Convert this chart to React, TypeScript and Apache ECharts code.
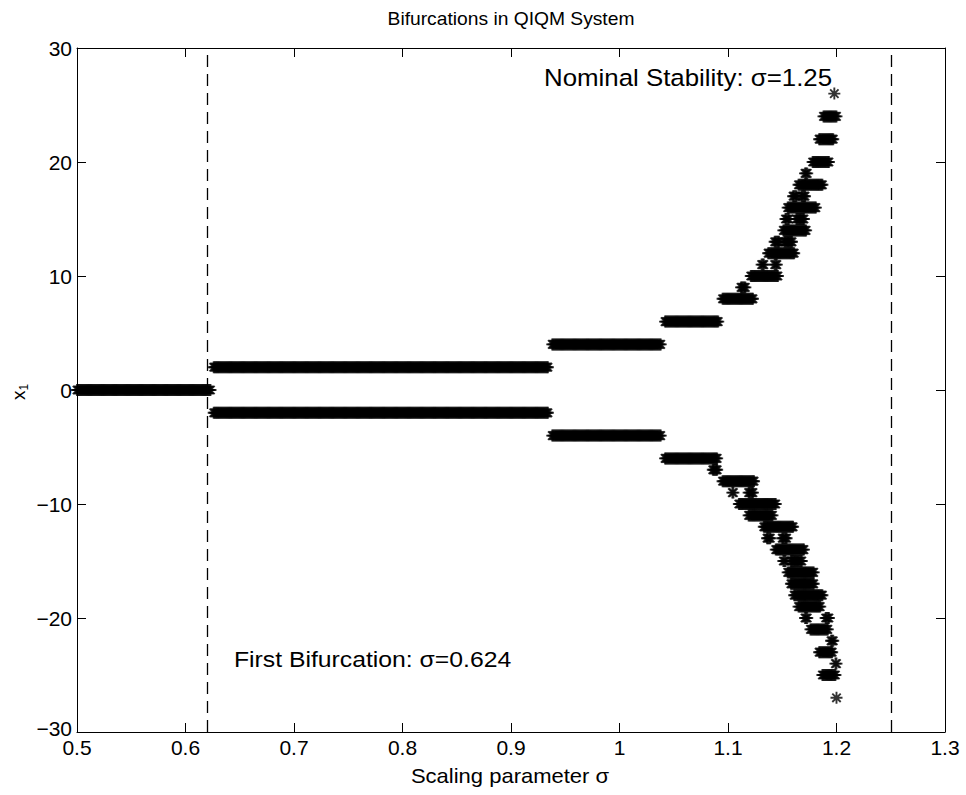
import React, { useEffect, useRef } from "react";
import * as echarts from "echarts";

// Sweep resolution of the scaling parameter sigma
const SIGMA_STEP = 0.001;

// Axis ranges and tick spacing
const SIGMA_MIN = 0.5;
const SIGMA_MAX = 1.3;
const SIGMA_TICK = 0.1;
const X1_MIN = -30;
const X1_MAX = 30;
const X1_TICK = 10;

// Reference parameter values marked with dashed lines
const FIRST_BIFURCATION = 0.624;
const NOMINAL_STABILITY = 1.25;

// [x1 level, sigma from, sigma to]: sweep samples where the orbit visits that level
const UPPER_BRANCH: [number, number, number][] = [
  [0, 0.5, 0.623],
  [2, 0.626, 0.934],
  [4, 0.938, 1.038],
  [6, 1.042, 1.091],
  [8, 1.095, 1.123],
  [9, 1.112, 1.116],
  [10, 1.121, 1.146],
  [11, 1.131, 1.133],
  [11, 1.143, 1.145],
  [12, 1.137, 1.161],
  [13, 1.143, 1.147],
  [13, 1.152, 1.159],
  [14, 1.151, 1.172],
  [15, 1.153, 1.156],
  [15, 1.163, 1.17],
  [16, 1.155, 1.181],
  [17, 1.16, 1.163],
  [17, 1.168, 1.171],
  [18, 1.165, 1.187],
  [19, 1.171, 1.173],
  [20, 1.178, 1.193],
  [22, 1.184, 1.197],
  [24, 1.188, 1.2],
  [26, 1.198, 1.198],
];

const LOWER_BRANCH: [number, number, number][] = [
  [-2, 0.626, 0.934],
  [-4, 0.938, 1.038],
  [-6, 1.042, 1.09],
  [-7, 1.086, 1.09],
  [-8, 1.095, 1.124],
  [-9, 1.104, 1.105],
  [-9, 1.119, 1.123],
  [-10, 1.11, 1.144],
  [-11, 1.119, 1.141],
  [-12, 1.133, 1.16],
  [-13, 1.136, 1.139],
  [-13, 1.15, 1.154],
  [-14, 1.144, 1.17],
  [-15, 1.151, 1.153],
  [-15, 1.158, 1.168],
  [-16, 1.155, 1.179],
  [-17, 1.158, 1.179],
  [-18, 1.161, 1.187],
  [-19, 1.165, 1.185],
  [-20, 1.171, 1.173],
  [-20, 1.19, 1.193],
  [-21, 1.176, 1.192],
  [-22, 1.195, 1.197],
  [-23, 1.184, 1.196],
  [-24, 1.199, 1.2],
  [-25, 1.187, 1.199],
  [-27, 1.2, 1.2],
];

const FONT = '"Liberation Sans", Arial, Helvetica, sans-serif';
const ASTERISK = "path://M0,5L10,5M5,0L5,10M1.5,1.5L8.5,8.5M8.5,1.5L1.5,8.5";

function sweepPoints(ranges: [number, number, number][]): [number, number][] {
  const pts: [number, number][] = [];
  for (const [level, from, to] of ranges) {
    const k0 = Math.round(from / SIGMA_STEP);
    const k1 = Math.round(to / SIGMA_STEP);
    for (let k = k0; k <= k1; k++) {
      pts.push([+(k * SIGMA_STEP).toFixed(3), level]);
    }
  }
  return pts;
}

const fmtSigma = (v: number) => String(Math.round(v * 10) / 10);
// The bottom-most label is lifted a little so it clears the first sigma label
const fmtX1 = (v: number) => {
  const s = v < 0 ? "\u2212" + Math.abs(v) : String(v);
  return v === X1_MIN ? `{lo|${s}}` : s;
};

export default function App() {
  const ref = useRef<HTMLDivElement>(null);

  useEffect(() => {
    if (!ref.current) return;
    const chart = echarts.init(ref.current, undefined, { renderer: "svg" });

    const axisLine = { show: true, onZero: false, lineStyle: { color: "#000", width: 1 } };
    const axisTick = { show: true, inside: true, length: 9, lineStyle: { color: "#000", width: 1 } };

    const scatterStyle = {
      type: "scatter" as const,
      symbol: ASTERISK,
      symbolSize: 12,
      silent: true,
      itemStyle: { color: "#000", borderColor: "#000", borderWidth: 1.9 },
    };

    chart.setOption({
      animation: false,
      backgroundColor: "#fff",
      grid: { left: 77, top: 48, right: 21, bottom: 63, containLabel: false },
      xAxis: [
        {
          type: "value",
          position: "bottom",
          min: SIGMA_MIN,
          max: SIGMA_MAX,
          interval: SIGMA_TICK,
          axisLine,
          axisTick,
          splitLine: { show: false },
          axisLabel: {
            color: "#000",
            fontFamily: FONT,
            fontSize: 21,
            lineHeight: 16,
            margin: 7,
            formatter: fmtSigma,
          },
        },
        {
          type: "value",
          position: "top",
          min: SIGMA_MIN,
          max: SIGMA_MAX,
          interval: SIGMA_TICK,
          axisLine,
          axisTick,
          splitLine: { show: false },
          axisLabel: { show: false },
        },
      ],
      yAxis: [
        {
          type: "value",
          position: "left",
          min: X1_MIN,
          max: X1_MAX,
          interval: X1_TICK,
          axisLine,
          axisTick,
          splitLine: { show: false },
          axisLabel: {
            color: "#000",
            fontFamily: FONT,
            fontSize: 21,
            lineHeight: 16,
            margin: 5,
            formatter: fmtX1,
            rich: {
              lo: {
                color: "#000",
                fontFamily: FONT,
                fontSize: 21,
                lineHeight: 16,
                padding: [0, 0, 7, 0],
              },
            },
          },
        },
        {
          type: "value",
          position: "right",
          min: X1_MIN,
          max: X1_MAX,
          interval: X1_TICK,
          axisLine,
          axisTick,
          splitLine: { show: false },
          axisLabel: { show: false },
        },
      ],
      series: [
        {
          ...scatterStyle,
          name: "upper",
          data: sweepPoints(UPPER_BRANCH),
          markLine: {
            silent: true,
            symbol: ["none", "none"],
            label: { show: false },
            lineStyle: { color: "#000", type: [12, 7], width: 1.3 },
            data: [{ xAxis: FIRST_BIFURCATION }, { xAxis: NOMINAL_STABILITY }],
          },
        },
        {
          ...scatterStyle,
          name: "lower",
          data: sweepPoints(LOWER_BRANCH),
        },
      ],
      graphic: [
        {
          type: "text",
          x: 511,
          y: 19,
          scaleX: 1.1,
          style: {
            text: "Bifurcations in QIQM System",
            fill: "#000",
            font: `17.5px ${FONT}`,
            textAlign: "center",
            textVerticalAlign: "middle",
          },
        },
        {
          type: "text",
          x: 510,
          y: 776,
          scaleX: 1.1,
          style: {
            text: "Scaling parameter \u03c3",
            fill: "#000",
            font: `20px ${FONT}`,
            textAlign: "center",
            textVerticalAlign: "middle",
          },
        },
        {
          type: "text",
          x: 18,
          y: 392,
          rotation: Math.PI / 2,
          style: {
            text: "{a|x}{b|1}",
            fill: "#000",
            textAlign: "center",
            textVerticalAlign: "middle",
            rich: {
              a: { fontFamily: FONT, fontSize: 19, fill: "#000" },
              b: { fontFamily: FONT, fontSize: 12, fill: "#000", padding: [12, 0, 0, 0] },
            },
          },
        },
        {
          type: "text",
          x: 544,
          y: 78,
          scaleX: 1.1,
          style: {
            text: "Nominal Stability: \u03c3=1.25",
            fill: "#000",
            font: `23.5px ${FONT}`,
            textAlign: "left",
            textVerticalAlign: "middle",
          },
        },
        {
          type: "text",
          x: 234,
          y: 659,
          scaleX: 1.1,
          style: {
            text: "First Bifurcation: \u03c3=0.624",
            fill: "#000",
            font: `22.5px ${FONT}`,
            textAlign: "left",
            textVerticalAlign: "middle",
          },
        },
      ],
    });

    return () => chart.dispose();
  }, []);

  return (
    <div
      ref={ref}
      style={{ position: "absolute", left: 0, top: 0, width: 966, height: 795, background: "#fff" }}
    />
  );
}
